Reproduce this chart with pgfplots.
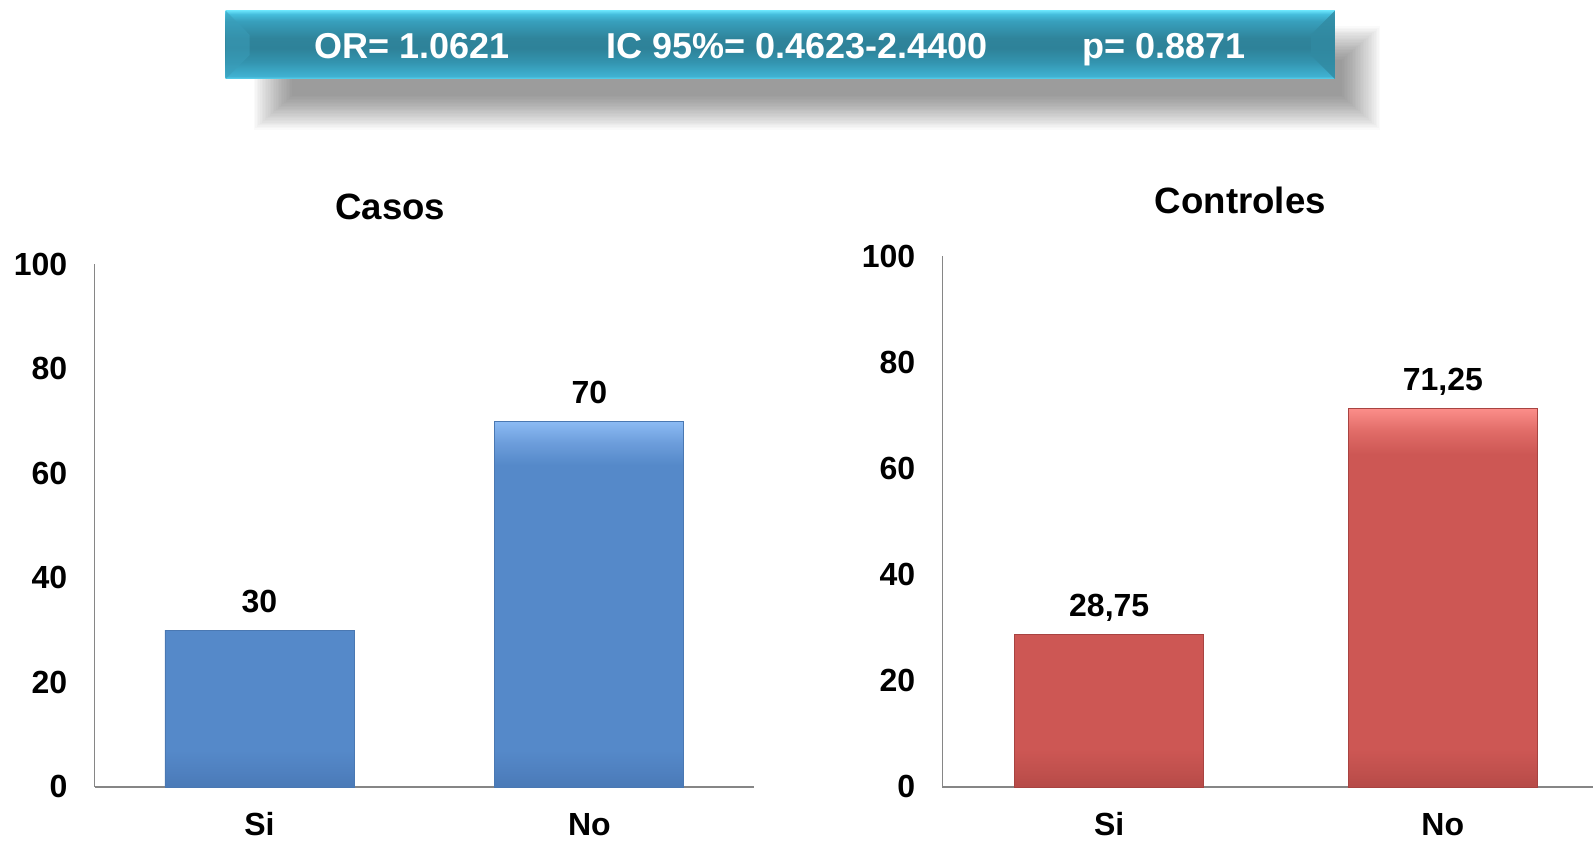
\documentclass[border=0pt]{standalone}
\usepackage{fontspec}
\setmainfont{Liberation Sans}
\usepackage{pgfplots}
\pgfplotsset{compat=1.18}

\definecolor{axisgray}{HTML}{868686}
\definecolor{bbot}{HTML}{4A7AB7}
\definecolor{bbot2}{HTML}{4F80BF}
\definecolor{bmid}{HTML}{5589C9}
\definecolor{btop1}{HTML}{6C9DDB}
\definecolor{btop}{HTML}{8CBBF4}
\definecolor{bedge}{HTML}{4A78B2}
\definecolor{rbot}{HTML}{B64A47}
\definecolor{rbot2}{HTML}{C0504D}
\definecolor{rmid}{HTML}{CD5754}
\definecolor{rtop1}{HTML}{E06B67}
\definecolor{rtop}{HTML}{FB8D89}
\definecolor{redge}{HTML}{A84341}
\definecolor{cy0}{HTML}{5ED6F2}
\definecolor{cy1}{HTML}{40B2D2}
\definecolor{cy2}{HTML}{3394AF}
\definecolor{cy3}{HTML}{2E8299}
\definecolor{cy4}{HTML}{2F849B}
\definecolor{cy5}{HTML}{38A0BD}
\definecolor{cy6}{HTML}{45BEDD}
\definecolor{cy7}{HTML}{66E0F8}
\definecolor{bevL}{HTML}{3A9DB9}
\definecolor{bevR}{HTML}{318AA2}

\pgfdeclareverticalshading{bluebar}{100bp}{color(0bp)=(bbot); color(25bp)=(bbot); color(27bp)=(bbot2); color(30bp)=(bmid); color(69bp)=(bmid); color(72bp)=(btop1); color(75bp)=(btop); color(100bp)=(btop)}
\pgfdeclareverticalshading{redbar}{100bp}{color(0bp)=(rbot); color(25bp)=(rbot); color(27bp)=(rbot2); color(30bp)=(rmid); color(69bp)=(rmid); color(72bp)=(rtop1); color(75bp)=(rtop); color(100bp)=(rtop)}
\pgfdeclareverticalshading{bannerv}{100bp}{color(0bp)=(cy0); color(25bp)=(cy0); color(27bp)=(cy1); color(37.5bp)=(cy2); color(47.5bp)=(cy3); color(55bp)=(cy4); color(67.5bp)=(cy5); color(72.5bp)=(cy6); color(75bp)=(cy7); color(100bp)=(cy7)}

\pgfplotsset{
  panel/.style={
    scale only axis, ybar, bar width=189pt,
    xmin=-0.5, xmax=1.5, ymin=0, ymax=100,
    axis lines*=left,
    axis line style={draw=axisgray, line width=1.5pt},
    xtick={0,1}, xticklabels={Si,No},
    ytick={0,20,40,60,80,100},
    major tick length=0pt,
    tick label style={font=\fontsize{32}{38}\selectfont\bfseries},
    /pgf/number format/assume math mode=true,
    xticklabel style={anchor=base, yshift=-49pt, inner sep=0pt},
    yticklabel style={anchor=east, xshift=-27pt, inner sep=0pt},
    nodes near coords,
    point meta=explicit symbolic,
    every node near coord/.append style={font=\fontsize{32}{38}\selectfont\bfseries, anchor=south, inner sep=0pt, text depth=0pt, yshift=17.5pt, text=black},
    clip=false,
  }
}

\begin{document}
\begin{tikzpicture}[x=1pt,y=1pt]
% soft shadow of the banner
\foreach \i in {0,...,24}{
  \fill[black, opacity=0.018] ({292-(24-\i)*1.6}, {745-(24-\i)*1.4}) rectangle ({1342+(24-\i)*1.6}, {781+(24-\i)*1.4});
}
% banner
\shade[shading=bannerv] (225.7,762) rectangle (1334.8,830.3);
\fill[bevL, opacity=0.55] (225.7,762) -- (249.7,786) -- (249.7,806) -- (225.7,830.3) -- cycle;
\fill[bevR, opacity=0.8] (1334.8,762) -- (1310.8,786) -- (1310.8,806) -- (1334.8,830.3) -- cycle;
\begin{scope}[every node/.style={font=\fontsize{36}{42}\selectfont\bfseries, text=white, anchor=base, inner sep=0pt}]
\node at (411.7,782.6) {OR= 1.0621};
\node at (797,782.6) {IC 95\%= 0.4623-2.4400};
\node at (1164,782.6) {p= 0.8871};
\end{scope}
% panel titles
\node[font=\fontsize{36.6}{42}\selectfont\bfseries, inner sep=0pt] at (390.4,633.6) {Casos};
\node[font=\fontsize{36.6}{42}\selectfont\bfseries, inner sep=0pt] at (1240.3,640.7) {Controles};

\begin{axis}[panel, at={(94.5pt,54.1pt)}, anchor=south west, width=659.8pt, height=522.6pt]
\addplot[shade, shading=bluebar, draw=bedge, line width=0.8pt]
  coordinates {(0,30) [30] (1,70) [70]};
\end{axis}

\begin{axis}[panel, at={(942.4pt,54.1pt)}, anchor=south west, width=667.2pt, height=530.7pt]
\addplot[shade, shading=redbar, draw=redge, line width=0.8pt]
  coordinates {(0,28.75) [{28,75}] (1,71.25) [{71,25}]};
\end{axis}

\pgfresetboundingbox
\useasboundingbox (0,0) rectangle (1593,841);
\end{tikzpicture}
\end{document}
